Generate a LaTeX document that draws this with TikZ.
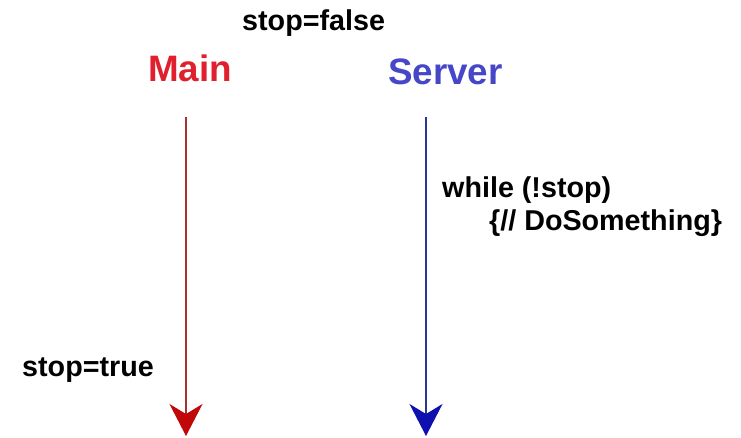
\documentclass[tikz,border=0pt]{standalone}
\usepackage{fontspec}
\setmainfont{Liberation Sans}
\usetikzlibrary{arrows.meta}
\definecolor{mainred}{HTML}{E0202E}
\definecolor{serverblue}{HTML}{4646C8}
\definecolor{redline}{HTML}{A83030}
\definecolor{redtip}{HTML}{C00808}
\definecolor{blueline}{HTML}{283890}
\definecolor{bluetip}{HTML}{1010B0}
\begin{document}
\begin{tikzpicture}[x=1pt,y=-1pt,
  lbl/.style={inner sep=0pt,anchor=base west,font=\fontsize{28.7}{32}\selectfont\bfseries},
  ttl/.style={inner sep=0pt,anchor=base west,font=\fontsize{36.8}{40}\selectfont\bfseries},
  life/.style={line width=1.6pt}]
\useasboundingbox (0,0) rectangle (741,438);
\node[lbl] (sf) at (242,31) {stop=false};
\node[ttl,text=mainred] (main) at (148,82) {Main};
\node[ttl,text=serverblue] (server) at (388,85) {Server};
\node[lbl] (wh) at (442,198) {while (!stop)};
\node[lbl] (ds) at (489,231) {\{// DoSomething\}};
\node[lbl] (st) at (22,376) {stop=true};
\coordinate (m0) at (186,117);
\coordinate (m1) at (186,436);
\coordinate (s0) at (426,117);
\coordinate (s1) at (426,436);
\draw[life,redline,-{Stealth[length=32pt,width=33pt,inset=10pt,color=redtip]}] (m0) -- (m1);
\draw[life,blueline,-{Stealth[length=32pt,width=33pt,inset=10pt,color=bluetip]}] (s0) -- (s1);
\end{tikzpicture}
\end{document}
